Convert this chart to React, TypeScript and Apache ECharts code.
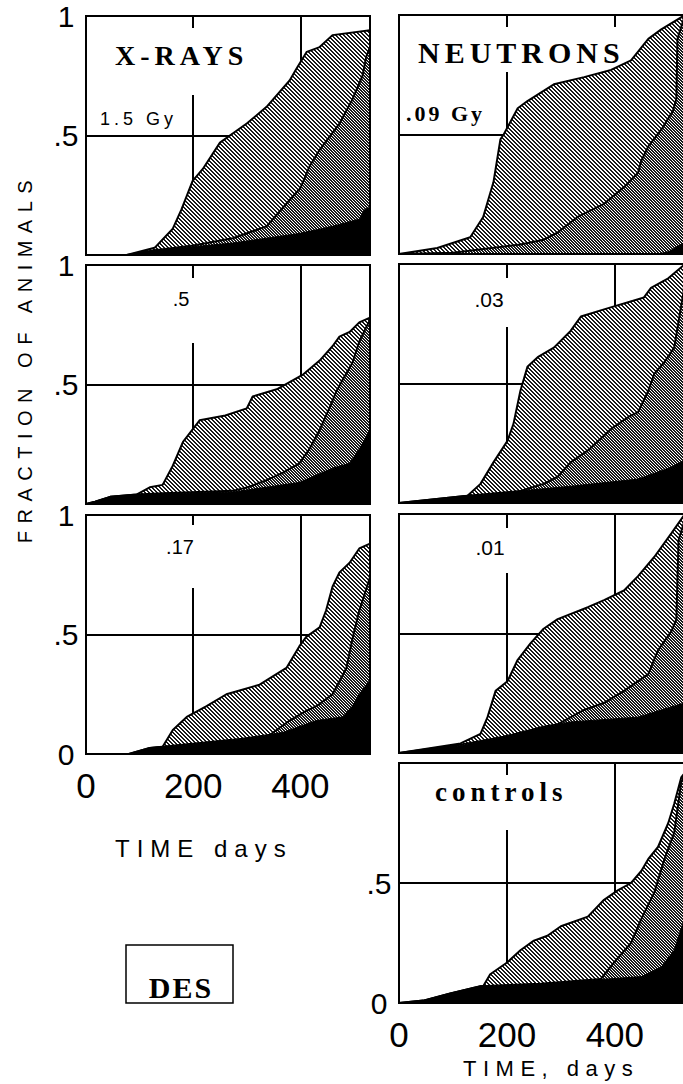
import React, { useEffect, useRef } from 'react';
import * as echarts from 'echarts';

type Pt = [number, number];

// ---------- axes ----------
const xMax = 530;
const xInterval = 200;
const xTickLabels = ['0', '200', '400'];
const yInterval = 0.5;

// ---------- X-RAYS 1.5 Gy ----------
const xray15Total: Pt[] = [[0, 0], [76, 0], [128, 0.03], [162, 0.11], [178, 0.19], [199, 0.31], [218, 0.36], [250, 0.47], [300, 0.55], [337, 0.62], [380, 0.73], [393, 0.78], [412, 0.85], [436, 0.87], [460, 0.92], [530, 0.94]];
const xray15Middle: Pt[] = [[0, 0], [76, 0], [128, 0.02], [200, 0.04], [274, 0.07], [337, 0.12], [380, 0.23], [400, 0.28], [417, 0.37], [436, 0.44], [473, 0.55], [497, 0.65], [516, 0.75], [523, 0.83], [530, 0.87]];
const xray15Black: Pt[] = [[0, 0], [76, 0], [128, 0.02], [274, 0.05], [398, 0.09], [460, 0.12], [510, 0.15], [520, 0.19], [530, 0.2]];

// ---------- X-RAYS .5 ----------
const xray05Total: Pt[] = [[0, 0], [17, 0.01], [45, 0.03], [95, 0.04], [119, 0.07], [143, 0.08], [162, 0.16], [181, 0.26], [212, 0.35], [260, 0.37], [300, 0.4], [311, 0.45], [356, 0.48], [380, 0.51], [404, 0.54], [436, 0.6], [460, 0.66], [473, 0.7], [492, 0.72], [510, 0.76], [530, 0.78]];
const xray05Middle: Pt[] = [[0, 0], [17, 0.01], [45, 0.03], [95, 0.04], [143, 0.045], [274, 0.055], [302, 0.07], [337, 0.1], [367, 0.13], [398, 0.17], [417, 0.23], [436, 0.31], [454, 0.4], [467, 0.47], [479, 0.52], [497, 0.59], [510, 0.68], [523, 0.74], [530, 0.77]];
const xray05Black: Pt[] = [[0, 0], [17, 0.01], [45, 0.03], [95, 0.04], [274, 0.05], [398, 0.09], [460, 0.15], [492, 0.17], [510, 0.23], [530, 0.31]];

// ---------- X-RAYS .17 ----------
const xray017Total: Pt[] = [[0, 0], [80, 0], [119, 0.025], [143, 0.03], [162, 0.1], [188, 0.155], [225, 0.2], [262, 0.25], [324, 0.29], [374, 0.36], [398, 0.45], [411, 0.49], [436, 0.53], [448, 0.6], [460, 0.7], [473, 0.76], [492, 0.8], [510, 0.86], [530, 0.88]];
const xray017Middle: Pt[] = [[0, 0], [80, 0], [119, 0.025], [274, 0.06], [337, 0.07], [380, 0.14], [411, 0.18], [430, 0.2], [460, 0.25], [486, 0.36], [497, 0.48], [510, 0.6], [530, 0.74]];
const xray017Black: Pt[] = [[0, 0], [80, 0], [119, 0.025], [274, 0.06], [367, 0.09], [430, 0.14], [479, 0.155], [497, 0.2], [510, 0.25], [530, 0.31]];

// ---------- NEUTRONS .09 Gy ----------
const neut09Total: Pt[] = [[0, 0], [71, 0.025], [132, 0.07], [156, 0.155], [175, 0.3], [188, 0.48], [194, 0.5], [220, 0.61], [238, 0.64], [287, 0.71], [343, 0.74], [393, 0.77], [430, 0.81], [462, 0.9], [486, 0.94], [530, 1.0]];
const neut09Middle: Pt[] = [[0, 0], [100, 0.005], [225, 0.04], [268, 0.06], [294, 0.09], [305, 0.11], [331, 0.155], [380, 0.21], [417, 0.28], [443, 0.34], [449, 0.39], [462, 0.45], [486, 0.52], [508, 0.6], [514, 0.65], [516, 0.9], [530, 1.0]];
const neut09Black: Pt[] = [[0, 0], [480, 0], [500, 0.01], [530, 0.05]];

// ---------- NEUTRONS .03 ----------
const neut03Total: Pt[] = [[0, 0], [127, 0.03], [151, 0.08], [175, 0.17], [201, 0.26], [212, 0.33], [225, 0.47], [238, 0.57], [257, 0.61], [287, 0.65], [318, 0.72], [337, 0.78], [380, 0.81], [454, 0.86], [467, 0.9], [499, 0.94], [530, 1.0]];
const neut03Middle: Pt[] = [[0, 0], [127, 0.03], [225, 0.05], [268, 0.08], [294, 0.11], [318, 0.17], [350, 0.22], [393, 0.31], [425, 0.36], [443, 0.38], [462, 0.47], [473, 0.54], [492, 0.59], [510, 0.65], [527, 0.88], [530, 0.95]];
const neut03Black: Pt[] = [[0, 0], [127, 0.03], [318, 0.07], [443, 0.1], [505, 0.15], [530, 0.18]];

// ---------- NEUTRONS .01 ----------
const neut01Total: Pt[] = [[0, 0], [114, 0.04], [151, 0.08], [164, 0.15], [179, 0.26], [201, 0.3], [220, 0.39], [244, 0.46], [268, 0.52], [294, 0.56], [350, 0.61], [380, 0.64], [417, 0.68], [443, 0.74], [473, 0.82], [505, 0.92], [530, 1.0]];
const neut01Middle: Pt[] = [[0, 0], [114, 0.035], [200, 0.07], [268, 0.11], [294, 0.12], [343, 0.18], [380, 0.21], [417, 0.26], [462, 0.33], [480, 0.43], [505, 0.51], [514, 0.56], [518, 0.89], [530, 0.98]];
const neut01Black: Pt[] = [[0, 0], [114, 0.03], [194, 0.07], [268, 0.11], [318, 0.13], [443, 0.15], [486, 0.18], [530, 0.21]];

// ---------- controls ----------
const controlTotal: Pt[] = [[0, 0], [45, 0.01], [95, 0.04], [151, 0.07], [156, 0.07], [169, 0.12], [201, 0.17], [225, 0.22], [250, 0.26], [275, 0.28], [300, 0.32], [350, 0.36], [380, 0.43], [406, 0.47], [430, 0.5], [449, 0.55], [462, 0.6], [480, 0.65], [499, 0.75], [510, 0.83], [523, 0.94], [530, 0.96]];
const controlMiddle: Pt[] = [[0, 0], [45, 0.01], [95, 0.04], [151, 0.07], [262, 0.08], [374, 0.1], [399, 0.17], [430, 0.25], [449, 0.35], [473, 0.46], [492, 0.6], [510, 0.71], [523, 0.92], [530, 0.95]];
const controlBlack: Pt[] = [[0, 0], [45, 0.01], [95, 0.04], [151, 0.07], [262, 0.08], [387, 0.1], [449, 0.11], [486, 0.15], [510, 0.22], [530, 0.36]];

// ---------- texts ----------
const yAxisTitle = 'FRACTION OF ANIMALS';
const xAxisTitleLeft = 'TIME days';
const xAxisTitleRight = 'TIME, days';

const SANS = 'Liberation Sans';
const SERIF = 'Liberation Serif';

type Panel = {
  left: number; top: number; width: number; height: number;
  total: Pt[]; middle: Pt[]; black: Pt[];
  yLabels: Record<string, string> | null;
  xLabels: boolean;
};

const PH = 239;
const panels: Panel[] = [
  { left: 86, top: 16, width: 284, height: PH, total: xray15Total, middle: xray15Middle, black: xray15Black, yLabels: { '1': '1', '0.5': '.5' }, xLabels: false },
  { left: 86, top: 265, width: 284, height: PH, total: xray05Total, middle: xray05Middle, black: xray05Black, yLabels: { '1': '1', '0.5': '.5' }, xLabels: false },
  { left: 86, top: 515, width: 284, height: PH, total: xray017Total, middle: xray017Middle, black: xray017Black, yLabels: { '1': '1', '0.5': '.5', '0': '0' }, xLabels: true },
  { left: 399, top: 15, width: 286, height: PH, total: neut09Total, middle: neut09Middle, black: neut09Black, yLabels: null, xLabels: false },
  { left: 399, top: 264, width: 286, height: PH, total: neut03Total, middle: neut03Middle, black: neut03Black, yLabels: null, xLabels: false },
  { left: 399, top: 514, width: 286, height: PH, total: neut01Total, middle: neut01Middle, black: neut01Black, yLabels: null, xLabels: false },
  { left: 399, top: 763, width: 286, height: 240, total: controlTotal, middle: controlMiddle, black: controlBlack, yLabels: { '0.5': '.5', '0': '0' }, xLabels: true },
];

const letterSpacings: Record<string, number> = {
  'FRACTION OF ANIMALS': 7.5,
  'TIME days': 7,
  'TIME, days': 6.5,
  'X-RAYS': 5,
  'NEUTRONS': 5,
  'controls': 5,
  '1.5 Gy': 4,
  '.09 Gy': 3,
  'DES': 2,
};

function hatch(p: number, w: number, color: string) {
  const c = document.createElement('canvas');
  c.width = p;
  c.height = p;
  const ctx = c.getContext('2d')!;
  ctx.fillStyle = '#fff';
  ctx.fillRect(0, 0, p, p);
  ctx.fillStyle = color;
  for (let y = 0; y < p; y++) {
    for (let x = 0; x < p; x++) {
      if ((((x - y) % p) + p) % p < w) ctx.fillRect(x, y, 1, 1);
    }
  }
  return { image: c.toDataURL(), repeat: 'repeat', imageWidth: p, imageHeight: p } as any;
}

export default function App() {
  const ref = useRef<HTMLDivElement>(null);
  useEffect(() => {
    if (!ref.current) return;
    const chart = echarts.init(ref.current, null, { renderer: 'svg' });
    const patTop = hatch(4, 2, '#1a1a1a');
    const patMid = hatch(3, 2, '#1a1a1a');

    const grid: any[] = [];
    const xAxis: any[] = [];
    const yAxis: any[] = [];
    const series: any[] = [];
    const graphic: any[] = [];

    panels.forEach((p, i) => {
      grid.push({ left: p.left, top: p.top, width: p.width, height: p.height, outerBoundsMode: 'none', containLabel: false });
      xAxis.push({
        gridIndex: i, type: 'value', min: 0, max: xMax, interval: xInterval,
        axisLine: { show: false }, axisTick: { show: false },
        splitLine: { show: true, lineStyle: { color: '#000', width: 2 } },
        axisLabel: {
          show: p.xLabels, showMaxLabel: false, margin: 14, fontSize: 35, fontFamily: SANS, color: '#000',
          formatter: (v: number) => (xTickLabels.indexOf(String(v)) >= 0 ? String(v) : ''),
        },
      });
      yAxis.push({
        gridIndex: i, type: 'value', min: 0, max: 1, interval: yInterval,
        axisLine: { show: false }, axisTick: { show: false },
        splitLine: { show: true, lineStyle: { color: '#000', width: 2 } },
        axisLabel: {
          show: !!p.yLabels, margin: 20, align: 'center', fontSize: 30, fontFamily: SANS, color: '#000',
          formatter: (v: number) => (p.yLabels && p.yLabels[String(v)]) || '',
        },
      });
      const base = { type: 'line', xAxisIndex: i, yAxisIndex: i, symbol: 'none', showSymbol: false, silent: true, animation: false };
      series.push({ ...base, data: p.total, z: 2, lineStyle: { color: '#000', width: 2 }, areaStyle: { color: patTop, opacity: 1 } });
      series.push({ ...base, data: p.middle, z: 3, lineStyle: { color: '#000', width: 2 }, areaStyle: { color: patMid, opacity: 1 } });
      series.push({ ...base, data: p.black, z: 4, lineStyle: { color: '#000', width: 1 }, areaStyle: { color: '#000', opacity: 1 } });
      graphic.push({ type: 'rect', z: 20, silent: true, shape: { x: p.left, y: p.top, width: p.width, height: p.height }, style: { fill: 'none', stroke: '#000', lineWidth: 2 } });
    });

    // white boxes interrupting the grid lines behind the panel labels
    const gaps = [
      [105, 28, 160, 67], [410, 27, 222, 45], [165, 278, 40, 65], [160, 525, 45, 63],
      [465, 278, 50, 49], [465, 528, 50, 45], [428, 775, 148, 55],
    ];
    gaps.forEach(([x, y, w, h]) => graphic.push({ type: 'rect', z: 1, silent: true, shape: { x, y, width: w, height: h }, style: { fill: '#fff' } }));

    const txt = (text: string, x: number, y: number, fontSize: number, family: string, weight: string, align = 'left', rotation = 0) => ({
      type: 'text', z: 1, z2: 10, silent: true, x, y, rotation,
      style: { text, x: 0, y: 0, fontSize, fontFamily: family, fontWeight: weight, fill: '#000', align, verticalAlign: 'middle' },
    });
    graphic.push(txt('X-RAYS', 115, 55, 28, SERIF, 'bold'));
    graphic.push(txt('1.5 Gy', 100, 119, 18, SANS, 'normal'));
    graphic.push(txt('NEUTRONS', 418, 52, 30, SERIF, 'bold'));
    graphic.push(txt('.09 Gy', 406, 113, 22, SERIF, 'bold'));
    graphic.push(txt('.5', 181, 299, 20, SANS, 'normal', 'center'));
    graphic.push(txt('.17', 180, 547, 20, SANS, 'normal', 'center'));
    graphic.push(txt('.03', 489, 299, 21, SANS, 'normal', 'center'));
    graphic.push(txt('.01', 490, 547, 21, SANS, 'normal', 'center'));
    graphic.push(txt('controls', 435, 792, 27, SERIF, 'bold'));
    graphic.push(txt(yAxisTitle, 25, 358, 20, SANS, 'normal', 'center', Math.PI / 2));
    graphic.push(txt(xAxisTitleLeft, 115, 848, 24, SANS, 'normal'));
    graphic.push(txt(xAxisTitleRight, 463, 1068, 22, SANS, 'normal'));
    graphic.push({ type: 'rect', z: 1, silent: true, shape: { x: 126, y: 945, width: 107, height: 58 }, style: { fill: 'none', stroke: '#000', lineWidth: 1.5 } });
    graphic.push(txt('DES', 181, 987, 30, SERIF, 'bold', 'center'));

    chart.setOption({
      animation: false,
      backgroundColor: '#fff',
      grid, xAxis, yAxis, series, graphic,
    });

    const applySpacing = () => {
      const el = ref.current;
      if (!el) return;
      el.querySelectorAll('text').forEach((t) => {
        const s = letterSpacings[(t.textContent || '').trim()];
        if (s != null) t.setAttribute('letter-spacing', String(s));
      });
    };
    chart.on('finished', applySpacing);
    const t1 = setTimeout(applySpacing, 30);
    const t2 = setTimeout(applySpacing, 300);
    return () => {
      clearTimeout(t1);
      clearTimeout(t2);
      chart.dispose();
    };
  }, []);
  return <div ref={ref} style={{ position: 'absolute', left: 0, top: 0, width: 683, height: 1084 }} />;
}
